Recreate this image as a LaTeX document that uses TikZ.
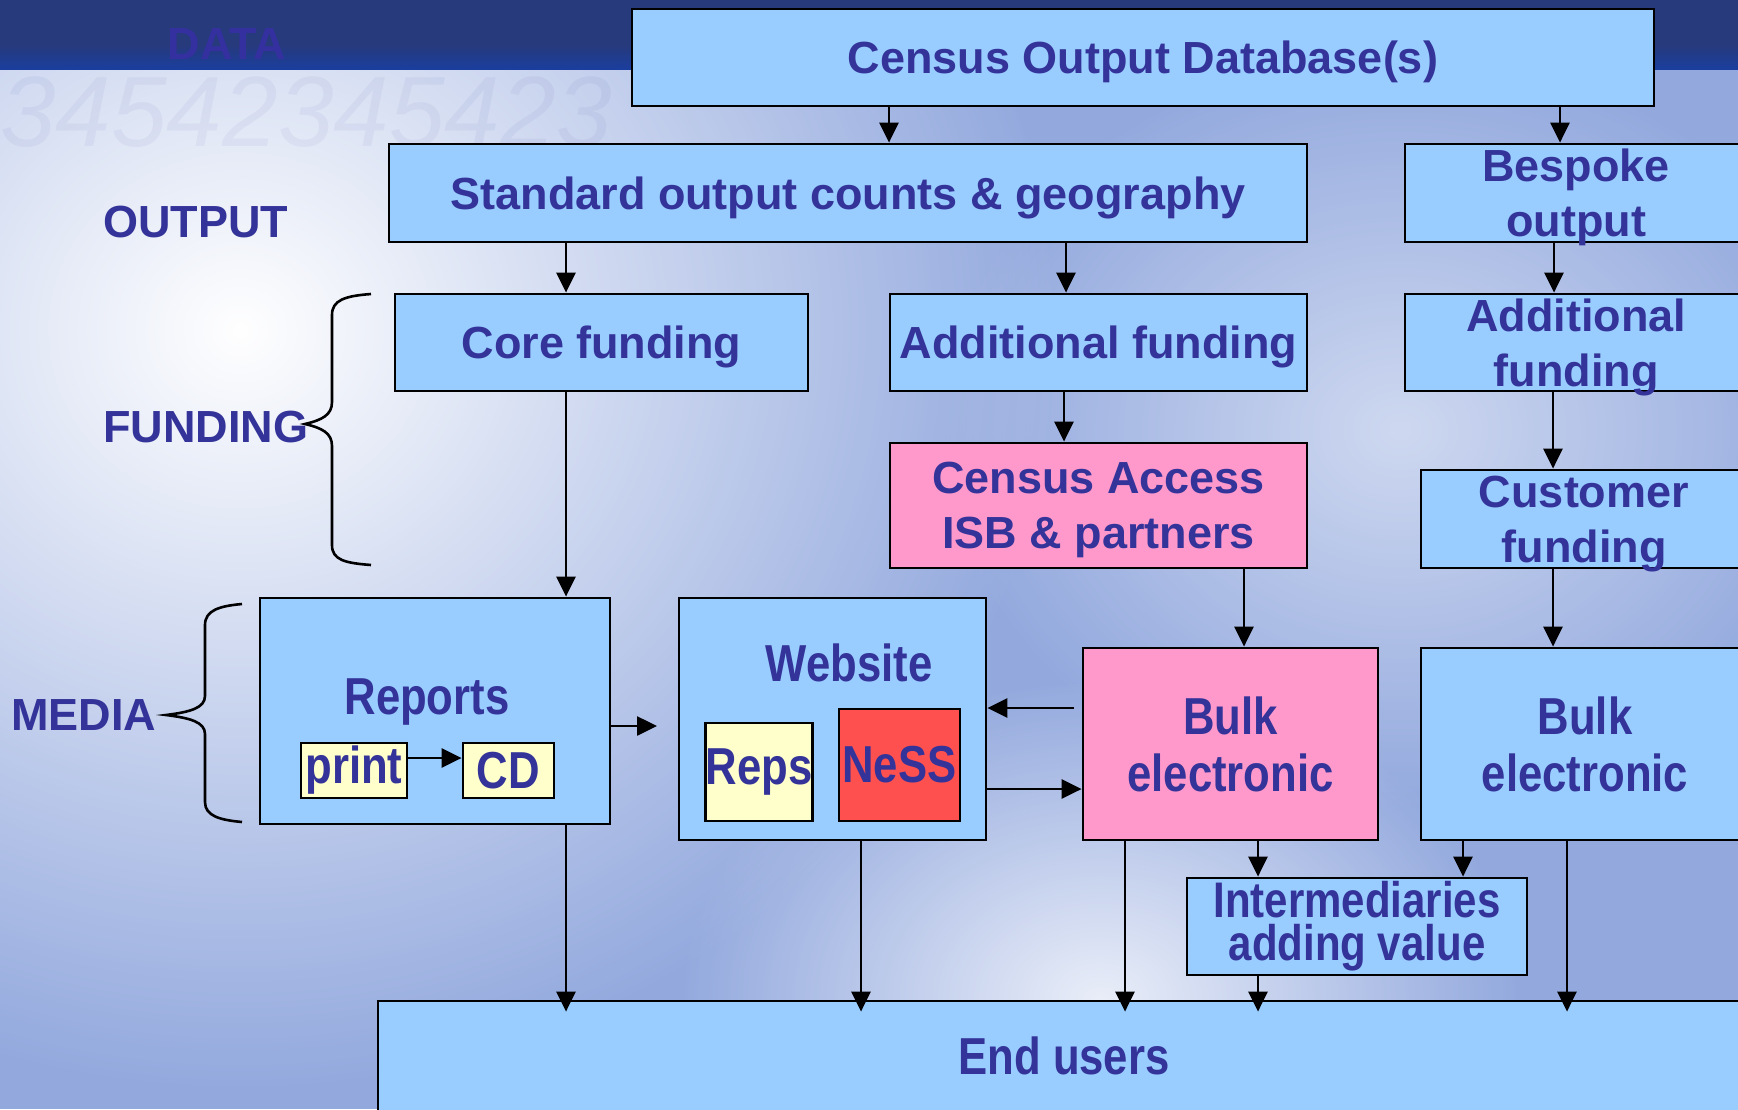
\documentclass[tikz,border=0pt]{standalone}
\usepackage{fontspec}
\setmainfont{Liberation Sans}
\newfontfamily\narrowfont[FakeStretch=0.84]{Liberation Sans}
\usetikzlibrary{arrows.meta,fadings,positioning}
\definecolor{navy}{HTML}{263A7C}
\definecolor{royal}{HTML}{1B3E9E}
\definecolor{sky}{HTML}{93A9DE}
\definecolor{boxblue}{HTML}{99CCFF}
\definecolor{boxpink}{HTML}{FF99CC}
\definecolor{boxcream}{HTML}{FFFFCC}
\definecolor{boxred}{HTML}{FF5050}
\definecolor{ink}{HTML}{333399}
\definecolor{dataink}{HTML}{3530A0}
\tikzfading[name=glow, inner color=transparent!0, outer color=transparent!100]
\tikzset{
  box/.style={draw=black, line width=2.8pt, fill=boxblue, text=ink, align=center, inner sep=0pt,
    text depth=0pt, font=\fontsize{45}{55}\selectfont\bfseries},
  pinkbox/.style={box, fill=boxpink},
  narrowbox/.style={box, text depth={}, font=\fontsize{52}{57}\selectfont\narrowfont\bfseries},
  narrowtext/.style={text=ink, inner sep=0pt, font=\fontsize{52}{57}\selectfont\narrowfont\bfseries},
  sidelabel/.style={text=ink, inner sep=0pt, anchor=west, font=\fontsize{45}{55}\selectfont\bfseries},
  arr/.style={line width=2.6pt, -{Triangle[length=20pt,width=19pt]}},
  brace/.style={line width=2.6pt}
}
\begin{document}
\begin{tikzpicture}[x=1pt,y=-1pt]
\useasboundingbox (0,0) rectangle (1738,1109);
\clip (0,0) rectangle (1738,1109);
\fill[sky] (0,0) rectangle (1738,1109);
\fill[white, path fading=glow] (240,330) ellipse (820 and 760);
\fill[white, path fading=glow, opacity=0.8] (1100,1000) ellipse (420 and 320);
\fill[white, path fading=glow, opacity=0.55] (1400,430) ellipse (460 and 380);
\fill[navy] (0,0) rectangle (1738,45);
\shade[top color=navy, bottom color=royal] (0,45) rectangle (1738,69);
\node[anchor=west, text=ink, opacity=0.05, inner sep=0pt, font=\fontsize{100}{100}\selectfont\itshape] (digits) at (0,112) {34542345423};
\node[text=dataink, inner sep=0pt, font=\fontsize{45}{55}\selectfont\bfseries] (data) at (227,44) {DATA};

\node[box, minimum width=1022, minimum height=97] (cod) at (1143,57.5) {Census Output Database(s)};
\node[box, minimum width=918, minimum height=98] (std) at (848,193) {Standard output counts \& geography};
\node[box, minimum width=342, minimum height=98] (besp) at (1576,193) {Bespoke\\output};
\node[box, minimum width=413, minimum height=97] (core) at (601.5,342.5) {Core funding};
\node[box, minimum width=417, minimum height=97] (addm) at (1098.5,342.5) {Additional funding};
\node[box, minimum width=342, minimum height=97] (addr) at (1576,342.5) {Additional\\funding};
\node[pinkbox, minimum width=417, minimum height=125] (acc) at (1098.5,505.5) {Census Access\\ISB \& partners};
\node[box, minimum width=326, minimum height=98] (cust) at (1584,519) {Customer\\funding};

\node[box, minimum width=350, minimum height=226] (rep) at (435,711) {};
\node[narrowtext] (reptxt) at (427,702) {Reports};
\node[narrowbox, fill=boxcream, minimum width=106, minimum height=55] (print) at (354,770.5) {print};
\node[narrowbox, fill=boxcream, minimum width=91, minimum height=55] (cd) at (508.5,770.5) {CD};
\node[box, minimum width=307, minimum height=242] (web) at (832.5,719) {};
\node[narrowtext] (webtxt) at (849,663) {Website};
\node[narrowbox, fill=boxcream, minimum width=106, minimum height=98] (reps) at (759,772) {Reps};
\node[narrowbox, fill=boxred, minimum width=121, minimum height=112] (ness) at (899.5,765) {NeSS};
\node[narrowbox, fill=boxpink, minimum width=295, minimum height=192] (bulkp) at (1230.5,744) {Bulk\\electronic};
\node[narrowbox, minimum width=328, minimum height=192] (bulkb) at (1585,744) {Bulk\\electronic};
\node[narrowbox, font=\fontsize{50}{43}\selectfont\narrowfont\bfseries, minimum width=340, minimum height=97] (inter) at (1357,926.5) {Intermediaries\\adding value};
\node[narrowbox, minimum width=1372, minimum height=110] (endu) at (1064,1056) {End users};

\node[sidelabel] (outlbl) at (103,222) {OUTPUT};
\node[sidelabel] (fundlbl) at (103,427) {FUNDING};
\node[sidelabel] (medialbl) at (11,715) {MEDIA};
\draw[brace] (371,294) .. controls (345,296) and (332,300) .. (332,315) -- (332,402)
  .. controls (332,415) and (322,420) .. (305,424) .. controls (322,428) and (332,433) .. (332,446)
  -- (332,545) .. controls (332,560) and (345,563) .. (371,565);
\draw[brace] (242,604) .. controls (220,606) and (205,610) .. (205,625) -- (205,696)
  .. controls (205,708) and (190,712) .. (166,715) .. controls (190,718) and (205,722) .. (205,734)
  -- (205,802) .. controls (205,816) and (220,820) .. (242,822);

\coordinate (webin) at (657,726);
\draw[arr] (cod.south -| 889,0) -- (std.north -| 889,0);
\draw[arr] (cod.south -| 1560,0) -- (besp.north -| 1560,0);
\draw[arr] (std.south -| 566,0) -- (core.north -| 566,0);
\draw[arr] (std.south -| 1066,0) -- (addm.north -| 1066,0);
\draw[arr] (besp.south -| 1554,0) -- (addr.north -| 1554,0);
\draw[arr] (core.south -| 566,0) -- (rep.north -| 566,0);
\draw[arr] (addm.south -| 1064,0) -- (acc.north -| 1064,0);
\draw[arr] (addr.south -| 1553,0) -- (cust.north -| 1553,0);
\draw[arr] (acc.south -| 1244,0) -- (bulkp.north -| 1244,0);
\draw[arr] (cust.south -| 1553,0) -- (bulkb.north -| 1553,0);
\draw[arr] (print.east |- 0,758) -- (cd.west |- 0,758);
\draw[arr] (rep.east |- webin) -- (webin);
\draw[arr] ([xshift=-8]bulkp.west |- 0,708) -- (web.east |- 0,708);
\draw[arr] (web.east |- 0,789) -- (bulkp.west |- 0,789);
\draw[arr] (bulkp.south -| 1258,0) -- (inter.north -| 1258,0);
\draw[arr] (bulkb.south -| 1463,0) -- (inter.north -| 1463,0);
\draw[arr, shorten >=-12pt] (rep.south -| 566,0) -- (endu.north -| 566,0);
\draw[arr, shorten >=-12pt] (web.south -| 861,0) -- (endu.north -| 861,0);
\draw[arr, shorten >=-12pt] (bulkp.south -| 1125,0) -- (endu.north -| 1125,0);
\draw[arr, shorten >=-12pt] (inter.south -| 1258,0) -- (endu.north -| 1258,0);
\draw[arr, shorten >=-12pt] (bulkb.south -| 1567,0) -- (endu.north -| 1567,0);
\end{tikzpicture}
\end{document}
